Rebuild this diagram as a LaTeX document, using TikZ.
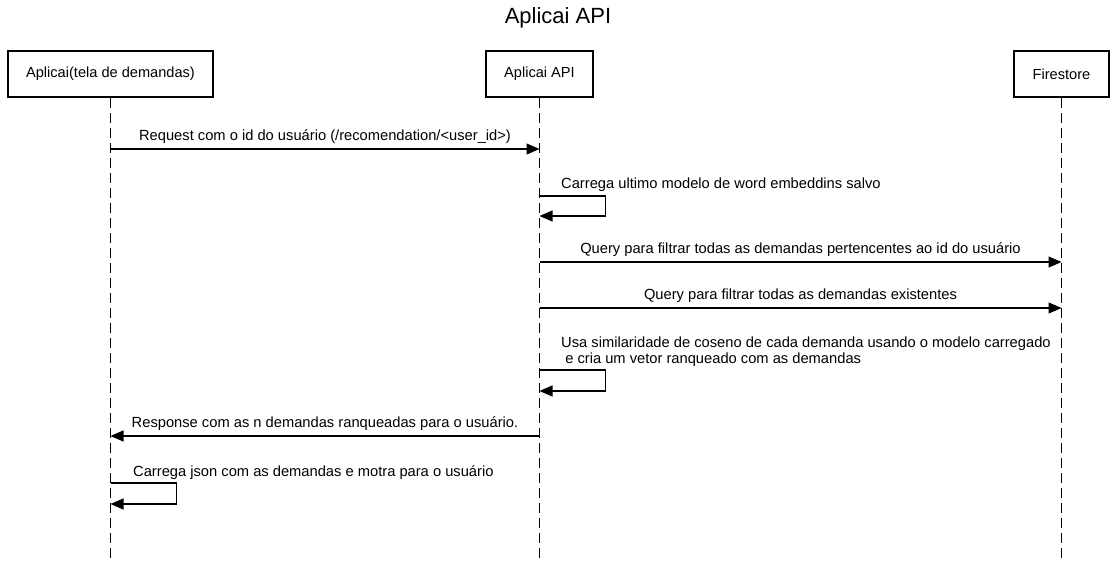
\documentclass[tikz,border=0pt]{standalone}
\usepackage{fontspec}
\setmainfont{Liberation Sans}
\usetikzlibrary{arrows.meta}
\begin{document}
\begin{tikzpicture}[x=1pt,y=-1pt,
  actor/.style={draw,line width=2.8pt,minimum height=46pt,inner sep=0pt,font=\fontsize{14.6}{17}\selectfont},
  lifeline/.style={line width=1.2pt,dash pattern=on 10pt off 5pt},
  msg/.style={line width=1.2pt,-{Triangle[length=13pt,width=11pt]}},
  lbl/.style={font=\fontsize{14.7}{17}\selectfont,inner sep=0pt}]
\useasboundingbox (0,0) rectangle (1116,561);
\node[font=\fontsize{22}{26}\selectfont] (title) at (558,18) {Aplicai API};
\node[actor,minimum width=205pt] (A) at (110.5,74) {Aplicai(tela de demandas)};
\node[actor,minimum width=107pt] (B) at (539.5,74) {Aplicai API};
\node[actor,minimum width=95pt] (C) at (1061.5,74) {Firestore};
\coordinate (Ae) at (110.5,561);
\coordinate (Be) at (539.5,561);
\coordinate (Ce) at (1061.5,561);
\draw[lifeline] (A.south) -- (Ae);
\draw[lifeline] (B.south) -- (Be);
\draw[lifeline] (C.south) -- (Ce);
% 1
\coordinate (m1a) at (110.5,149); \coordinate (m1b) at (539.5,149);
\draw[msg] (m1a) -- node[lbl,above=5pt] (l1) {Request com o id do usuário (/recomendation/<user\_id>)} (m1b);
% 2
\coordinate (m2a) at (539.5,196); \coordinate (m2b) at (539.5,216);
\draw[msg] (m2a) -- ++(66,0) |- (m2b);
\node[lbl,anchor=base west] (l2) at (561,189) {Carrega ultimo modelo de word embeddins salvo};
% 3
\coordinate (m3a) at (539.5,262); \coordinate (m3b) at (1061.5,262);
\draw[msg] (m3a) -- node[lbl,above=5pt] (l3) {Query para filtrar todas as demandas pertencentes ao id do usuário} (m3b);
% 4
\coordinate (m4a) at (539.5,308); \coordinate (m4b) at (1061.5,308);
\draw[msg] (m4a) -- node[lbl,above=5pt] (l4) {Query para filtrar todas as demandas existentes} (m4b);
% 5
\coordinate (m5a) at (539.5,370); \coordinate (m5b) at (539.5,391);
\draw[msg] (m5a) -- ++(66,0) |- (m5b);
\node[lbl,anchor=base west] (l5a) at (561,347) {Usa similaridade de coseno de cada demanda usando o modelo carregado};
\node[lbl,anchor=base west] (l5b) at (561,363) {\ e cria um vetor ranqueado com as demandas};
% 6
\coordinate (m6a) at (539.5,436); \coordinate (m6b) at (110.5,436);
\draw[msg] (m6a) -- node[lbl,above=5pt] (l6) {Response com as n demandas ranqueadas para o usuário.} (m6b);
% 7
\coordinate (m7a) at (110.5,483); \coordinate (m7b) at (110.5,504);
\draw[msg] (m7a) -- ++(66,0) |- (m7b);
\node[lbl,anchor=base west] (l7) at (133,476) {Carrega json com as demandas e motra para o usuário};
\end{tikzpicture}
\end{document}
